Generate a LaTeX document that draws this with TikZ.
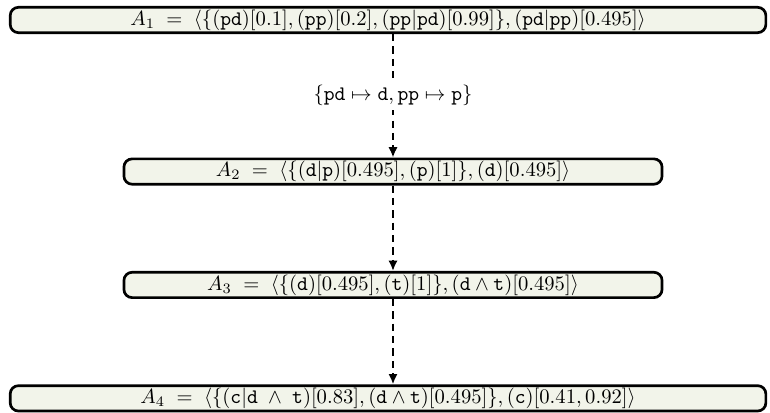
\documentclass[tikz,border=0pt]{standalone}
\usepackage{amsmath}
\usepackage{amssymb}
\usepackage{xcolor}
\usetikzlibrary{arrows.meta,positioning,calc}

\definecolor{boxfill}{RGB}{242,244,234}

\begin{document}
\begin{tikzpicture}[
    statebox/.style={rectangle, draw, rounded corners=4pt, line width=1.3pt, fill=boxfill, inner sep=1pt, minimum height=12.3pt},
    mapsarrow/.style={-{Latex[length=5pt,width=4.5pt]}, line width=1pt, dash pattern=on 3.5pt off 2.5pt}
]
    \useasboundingbox (0,0) rectangle (373.45pt,-200.3pt);

    % Abstractions
    \node[statebox, minimum width=366.5pt] (a1) at (188.2pt,-9.7pt)
        {$A_1 \;=\; \langle\{(\mathtt{pd})[0.1], (\mathtt{pp})[0.2], (\mathtt{pp}|\mathtt{pd})[0.99]\}, (\mathtt{pd}|\mathtt{pp})[0.495]\rangle$};
    \node[statebox, minimum width=261pt] (a2) at (190.6pt,-83.2pt)
        {$A_2 \;=\; \langle\{(\mathtt{d}|\mathtt{p})[0.495], (\mathtt{p})[1]\}, (\mathtt{d})[0.495]\rangle$};
    \node[statebox, minimum width=261pt] (a3) at (190.6pt,-138.2pt)
        {$A_3 \;=\; \langle\{(\mathtt{d})[0.495], (\mathtt{t})[1]\}, (\mathtt{d}\wedge\mathtt{t})[0.495]\rangle$};
    \node[statebox, minimum width=366.5pt] (a4) at (188.2pt,-193.2pt)
        {$A_4 \;=\; \langle\{(\mathtt{c}|\mathtt{d}\;\wedge\;\mathtt{t})[0.83], (\mathtt{d}\wedge\mathtt{t})[0.495]\}, (\mathtt{c})[0.41, 0.92]\rangle$};

    % Steps
    \draw[mapsarrow] (a2 |- a1.south) -- (a2) node[midway, fill=white, inner sep=2pt] {$\{\mathtt{pd}\mapsto\mathtt{d}, \mathtt{pp}\mapsto\mathtt{p}\}$};
    \draw[mapsarrow] (a2) -- (a3);
    \draw[mapsarrow] (a3) -- (a3 |- a4.north);
\end{tikzpicture}
\end{document}
